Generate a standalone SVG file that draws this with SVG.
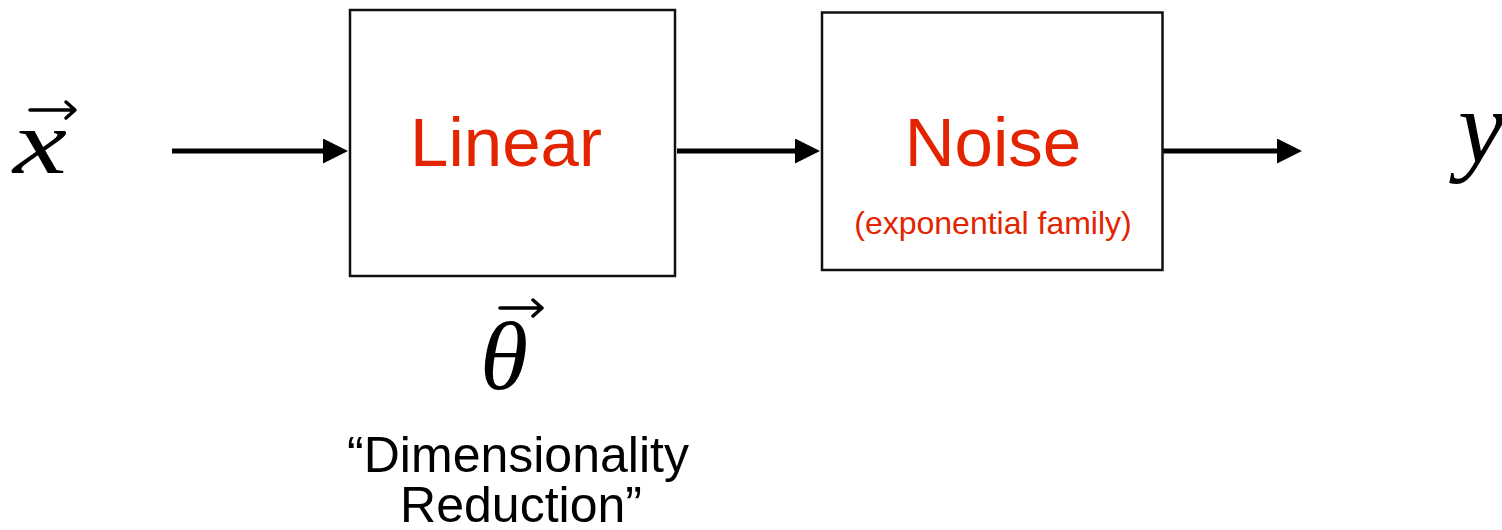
<svg xmlns="http://www.w3.org/2000/svg" width="1502" height="530" viewBox="0 0 1502 530">
<style>
.box{fill:#fff;stroke:#111;stroke-width:2.5}
.red{fill:#E32400;font-family:"Liberation Sans",Arial,sans-serif;text-anchor:middle}
.math{fill:#000;font-family:"Liberation Serif","Times New Roman",serif;font-style:italic}
.lbl{fill:#000;font-family:"Liberation Sans",Arial,sans-serif;font-size:50px;text-anchor:middle}
.conn{stroke:#000;stroke-width:5;fill:none}
.vec{stroke:#000;stroke-width:3.5;fill:none;stroke-linecap:round;stroke-linejoin:round}
</style>
<defs>
<marker id="ah" markerUnits="userSpaceOnUse" markerWidth="26" markerHeight="26" refX="0" refY="12.5" orient="auto">
<path d="M0,0 L25,12.5 L0,25 Z" fill="#000"/>
</marker>
</defs>
<rect width="1502" height="530" fill="#fff"/>
<g id="connectors">
<line class="conn" x1="172" y1="151" x2="323" y2="151" marker-end="url(#ah)"/>
<line class="conn" x1="677" y1="151" x2="795" y2="151" marker-end="url(#ah)"/>
<line class="conn" x1="1163" y1="151" x2="1277" y2="151" marker-end="url(#ah)"/>
</g>
<g id="x-input">
<text class="math" x="13" y="173" font-size="90" textLength="54" lengthAdjust="spacingAndGlyphs">x</text>
<path class="vec" d="M30,110 L74,110 M66,102 L75,110 L66,118"/>
</g>
<g id="linear">
<rect class="box" x="350" y="10" width="325" height="266"/>
<text class="red" x="506" y="166" font-size="69">Linear</text>
</g>
<g id="noise">
<rect class="box" x="822" y="12.5" width="340.5" height="257.5"/>
<text class="red" x="993" y="166" font-size="69">Noise</text>
<text class="red" x="993" y="234" font-size="32">(exponential family)</text>
</g>
<g id="y-output">
<text class="math" x="1458" y="162" font-size="104">y</text>
</g>
<g id="theta">
<text class="math" x="480" y="389" font-size="98">θ</text>
<path class="vec" d="M500,308 L541,308 M533,300 L542,308 L533,316"/>
</g>
<g id="dim-label">
<text class="lbl" x="518" y="472">“Dimensionality</text>
<text class="lbl" x="521" y="522">Reduction”</text>
</g>
</svg>
